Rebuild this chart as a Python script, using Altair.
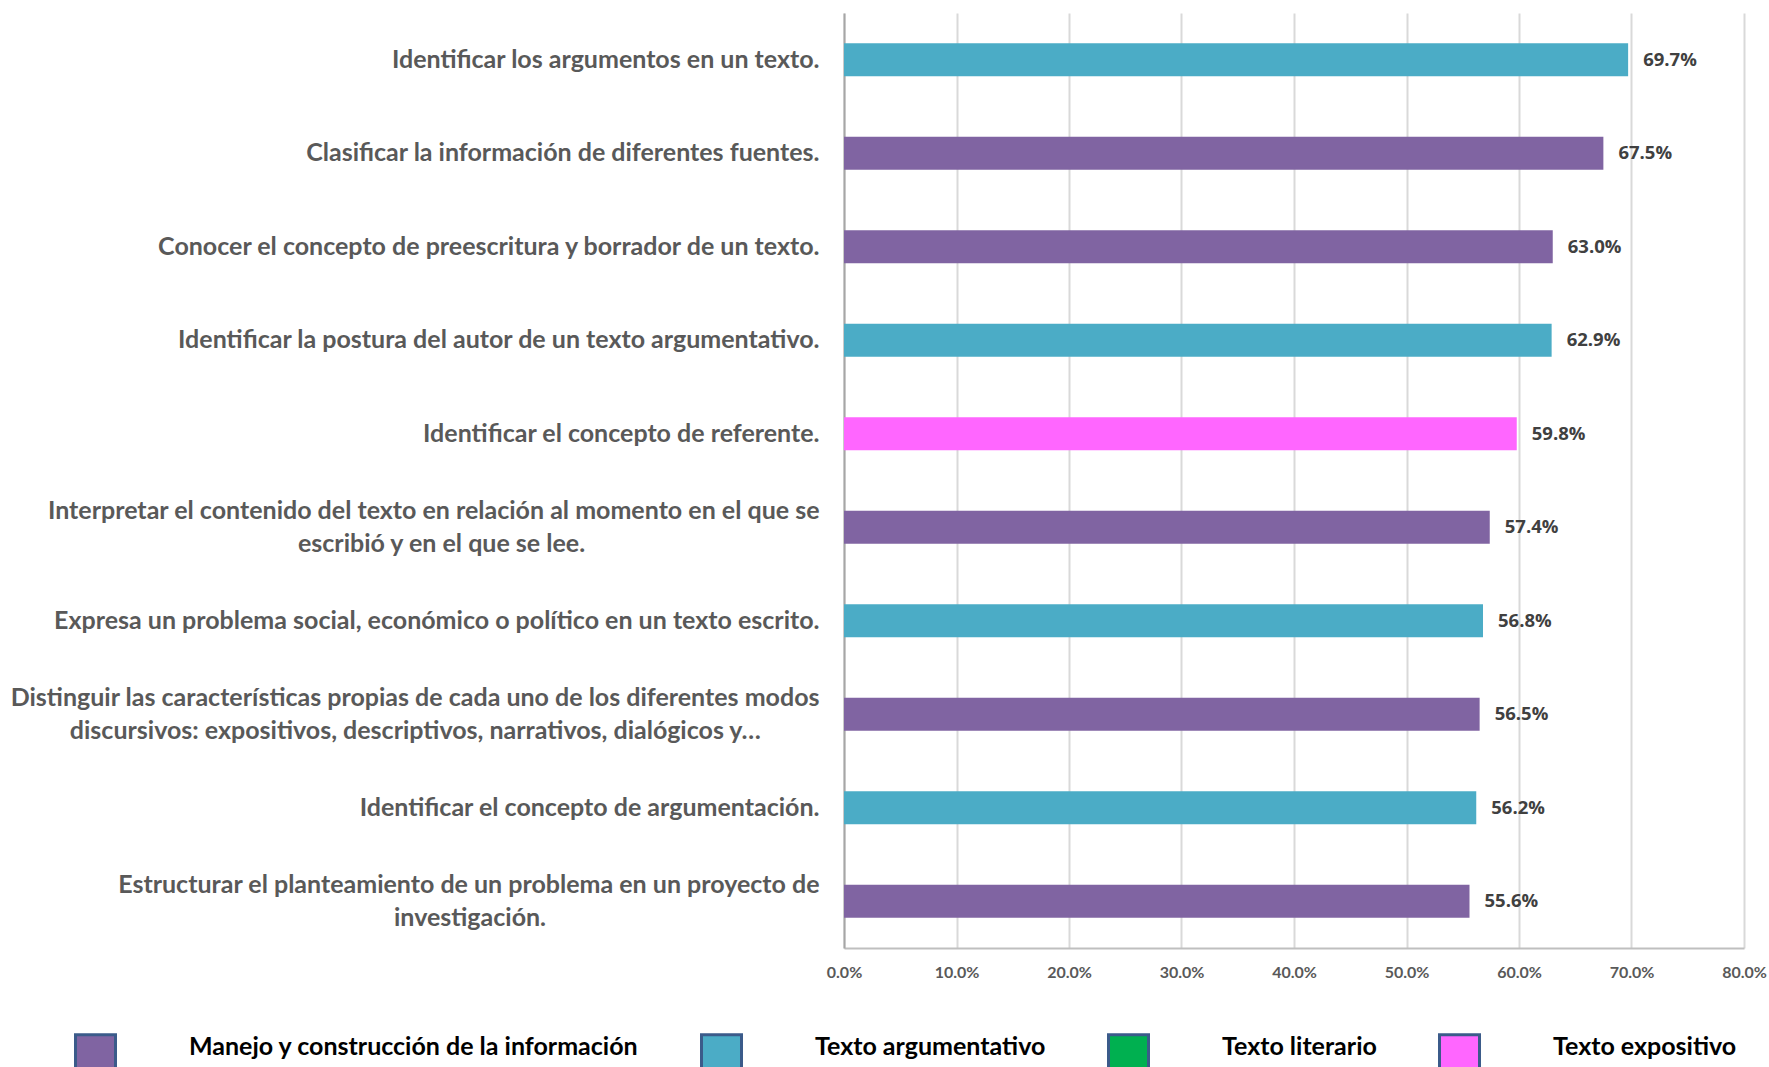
import altair as alt
import pandas as pd

categories = [
    "Identificar los argumentos en un texto.",
    "Clasificar la información de diferentes fuentes.",
    "Conocer el concepto de preescritura y borrador de un texto.",
    "Identificar la postura del autor de un texto argumentativo.",
    "Identificar el concepto de referente.",
    "Interpretar el contenido del texto en relación al momento en el que se\nescribió y en el que se lee.",
    "Expresa un problema social, económico o político en un texto escrito.",
    "Distinguir las características propias de cada uno de los diferentes modos\ndiscursivos: expositivos, descriptivos, narrativos, dialógicos y…",
    "Identificar el concepto de argumentación.",
    "Estructurar el planteamiento de un problema en un proyecto de\ninvestigación.",
]
values = [69.7, 67.5, 63.0, 62.9, 59.8, 57.4, 56.8, 56.5, 56.2, 55.6]
groups = [
    "Texto argumentativo",
    "Manejo y construcción de la información",
    "Manejo y construcción de la información",
    "Texto argumentativo",
    "Texto expositivo",
    "Manejo y construcción de la información",
    "Texto argumentativo",
    "Manejo y construcción de la información",
    "Texto argumentativo",
    "Manejo y construcción de la información",
]
legend_groups = [
    "Manejo y construcción de la información",
    "Texto argumentativo",
    "Texto literario",
    "Texto expositivo",
]
legend_colors = ["#8064a2", "#4bacc6", "#00b050", "#ff66ff"]
x_ticks = [0, 0.1, 0.2, 0.3, 0.4, 0.5, 0.6, 0.7, 0.8]

df = pd.DataFrame({"cat": categories, "value": values, "group": groups})

# blank filler glyph (not trimmed by the renderer) used to centre second lines
FILL = "\u2800"
L0 = "split(datum.label, '\\n')[0]"
L1 = "split(datum.label, '\\n')[1]"
label_expr = (
    "length(split(datum.label, '\\n')) > 1 ? "
    "[" + L0 + ", pad(" + L1 + ", length(" + L1 + ") + "
    "round(0.29 * (length(" + L0 + ") - length(" + L1 + "))), '" + FILL + "')]"
    " : datum.label"
)
FONT = "Lato, 'DejaVu Sans'"

base = alt.Chart(df).transform_calculate(frac="datum.value / 100")

y_enc = alt.Y(
    "cat:N",
    sort=categories,
    title=None,
    scale=alt.Scale(paddingInner=0, paddingOuter=0),
    axis=alt.Axis(
        labelExpr=label_expr,
        labelFont=FONT,
        labelFontSize=25,
        labelFontWeight="bold",
        labelColor="#595959",
        labelPadding=25,
        labelLimit=1000,
        labelLineHeight=33,
        labelAlign="right",
        labelBaseline="middle",
        labelOffset={"condition": {"test": "indexof(datum.label, '\\n') >= 0", "value": -16.5}, "value": 0},
        ticks=False,
        domainColor="#a6a6a6",
        domainWidth=2,
        grid=False,
    ),
)
x_enc = alt.X(
    "frac:Q",
    title=None,
    scale=alt.Scale(domain=[0, 0.8], nice=False),
    axis=alt.Axis(
        values=x_ticks,
        format=".1%",
        labelFont="Lato",
        labelFontSize=16,
        labelFontWeight="bold",
        labelColor="#595959",
        labelPadding=16,
        labelFlush=False,
        ticks=False,
        domainColor="#bfbfbf",
        domainWidth=2,
        grid=True,
        gridColor="#d9d9d9",
        gridWidth=2,
    ),
)

bars = base.mark_bar(size=33).encode(
    y=y_enc,
    x=x_enc,
    color=alt.Color(
        "group:N",
        scale=alt.Scale(domain=legend_groups, range=legend_colors),
        legend=alt.Legend(
            title=None,
            orient="none",
            legendX=-770,
            legendY=1020,
            direction="horizontal",
            columns=4,
            symbolType="square",
            symbolSize=1600,
            symbolStrokeColor="#3b5b8a",
            symbolStrokeWidth=3,
            symbolOpacity=1,
            labelFont="Lato",
            labelFontSize=25,
            labelFontWeight="bold",
            labelColor="#000000",
            labelLimit=700,
            labelOffset=72,
            labelBaseline="alphabetic",
            columnPadding=56,
            padding=0,
        ),
    ),
)

text = base.mark_text(
    align="left",
    baseline="middle",
    dx=15,
    font="Open Sans",
    fontSize=18.5,
    fontWeight="bold",
    color="#404040",
).encode(
    y=alt.Y("cat:N", sort=categories),
    x=alt.X("frac:Q"),
    text=alt.Text("frac:Q", format=".1%"),
)

chart = (
    alt.layer(bars, text)
    .properties(
        width=900,
        height=935,
        autosize=alt.AutoSizeParams(type="none"),
        padding={"left": 844, "top": 13, "right": 25, "bottom": 119},
        background="#ffffff",
    )
    .configure_view(stroke=None)
)

chart.save("out.html", embed_options={"renderer": "svg", "actions": False})
